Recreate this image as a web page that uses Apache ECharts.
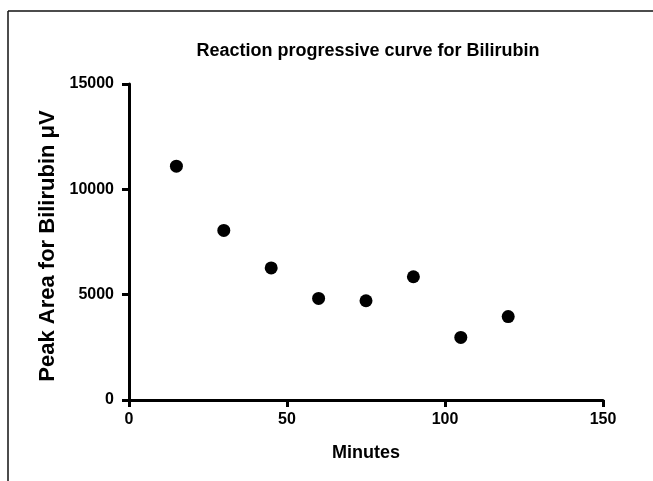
<!DOCTYPE html>
<html>
<head>
<meta charset="utf-8">
<script src="https://cdn.jsdelivr.net/npm/echarts@6/dist/echarts.min.js"></script>
<style>
  html, body { margin: 0; padding: 0; background: #fff; }
  #chart { width: 653px; height: 481px; }
</style>
</head>
<body>
<div id="chart"></div>
<script>
// Sampling times (minutes) and measured peak areas
const minutes = [15, 30, 45, 60, 75, 90, 105, 120];
const peakArea = [11100, 8050, 6270, 4820, 4710, 5850, 2970, 3960];

const titleText = 'Reaction progressive curve for Bilirubin';
const xName = 'Minutes';
const yName = 'Peak Area for Bilirubin \u03bcV';

const FONT = '"Liberation Sans", Arial, Helvetica, sans-serif';

const chart = echarts.init(document.getElementById('chart'), null, { renderer: 'canvas' });

chart.setOption({
  animation: false,
  backgroundColor: '#ffffff',
  title: {
    text: titleText,
    left: 363,
    top: 37,
    textAlign: 'center',
    textStyle: { fontFamily: FONT, fontWeight: 'bold', fontSize: 18, color: '#000' }
  },
  grid: { left: 129, right: 50, top: 84, bottom: 81, containLabel: false },
  xAxis: {
    type: 'value',
    min: 0, max: 150, interval: 50,
    name: xName,
    nameLocation: 'middle',
    nameGap: 44,
    nameTextStyle: { fontFamily: FONT, fontWeight: 'bold', fontSize: 18, color: '#000' },
    axisLine: { show: true, onZero: false, lineStyle: { color: '#000', width: 3 } },
    axisTick: { show: true, length: 7, lineStyle: { color: '#000', width: 3 } },
    axisLabel: { margin: 12, fontFamily: FONT, fontWeight: 'bold', fontSize: 16, color: '#000' },
    splitLine: { show: false }
  },
  yAxis: {
    type: 'value',
    min: 0, max: 15000, interval: 5000,
    name: yName,
    nameLocation: 'middle',
    nameGap: 67,
    nameTextStyle: { fontFamily: FONT, fontWeight: 'bold', fontSize: 22, color: '#000', padding: [0, 8, 0, 0] },
    axisLine: { show: true, lineStyle: { color: '#000', width: 3 } },
    axisTick: { show: true, length: 7, lineStyle: { color: '#000', width: 3 } },
    axisLabel: {
      margin: 15, fontFamily: FONT, fontWeight: 'bold', fontSize: 16, color: '#000',
      formatter: v => String(v)
    },
    splitLine: { show: false }
  },
  series: [{
    type: 'scatter',
    data: minutes.map((m, i) => [m, peakArea[i]]),
    symbol: 'circle',
    symbolSize: 13,
    itemStyle: { color: '#000', opacity: 1 }
  }],
  graphic: [
    { type: 'line', shape: { x1: 8, y1: 11, x2: 653, y2: 11 }, style: { stroke: '#111', lineWidth: 1.5 } },
    { type: 'line', shape: { x1: 8, y1: 11, x2: 8, y2: 481 }, style: { stroke: '#111', lineWidth: 1.5 } }
  ]
});
</script>
</body>
</html>
